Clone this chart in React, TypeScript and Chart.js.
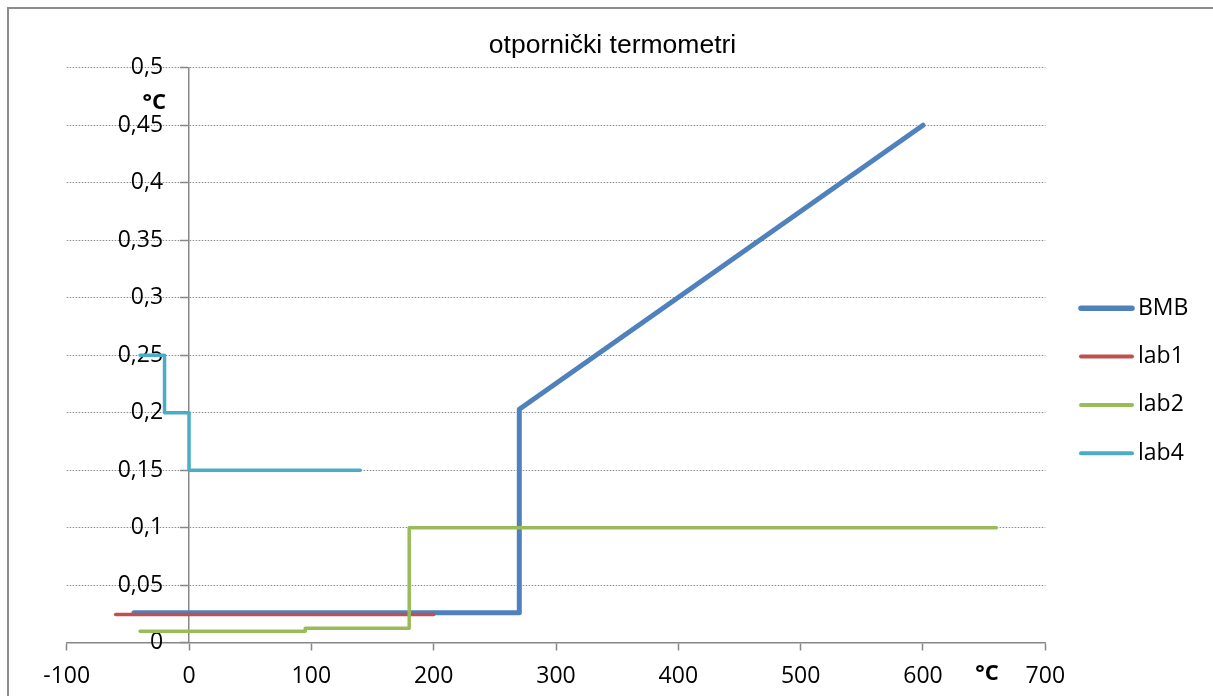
import React, { useEffect, useRef } from 'react';
import { Chart, registerables } from 'chart.js';

Chart.register(...registerables);

// ---- data ----
const TITLE = 'otpornički termometri';
const SERIES_NAMES = ['BMB', 'lab1', 'lab2', 'lab4'];
const SERIES_COLORS = ['#4F81BD', '#C0504D', '#9BBB59', '#4BACC6'];
const SERIES_WIDTHS = [5, 3.5, 3.5, 3.5];

const bmbX = [-45, 270, 270, 600];
const bmbY = [0.026, 0.026, 0.203, 0.45];
const lab1X = [-60, 200];
const lab1Y = [0.0245, 0.0245];
const lab2X = [-40, 95, 95, 180, 180, 660];
const lab2Y = [0.01, 0.01, 0.0125, 0.0125, 0.1, 0.1];
const lab4X = [-40, -20, -20, 0, 0, 140];
const lab4Y = [0.25, 0.25, 0.2, 0.2, 0.15, 0.15];

const X_MIN = -100;
const X_MAX = 700;
const X_STEP = 100;
const Y_MIN = 0;
const Y_MAX = 0.5;
const Y_STEP = 0.05;
const X_UNIT = '°C';
const Y_UNIT = '°C';

const fmt = (v: number) => String(+Number(v).toFixed(2)).replace('.', ',');
const pts = (xs: number[], ys: number[]) => xs.map((x, i) => ({ x, y: ys[i] }));

const AXIS_COLOR = '#878787';
const FONT = 'Open Sans';
// x-value at which the y tick labels are right-aligned (26 px left of the axis at x = 0)
const Y_LABEL_ANCHOR = -21.25;

const framePlugin = {
  id: 'frame',
  beforeDraw(chart: any) {
    const ctx = chart.ctx as CanvasRenderingContext2D;
    ctx.save();
    ctx.fillStyle = '#fff';
    ctx.fillRect(0, 0, chart.width, chart.height);
    ctx.strokeStyle = '#8c8c8c';
    ctx.lineWidth = 2;
    ctx.beginPath();
    ctx.moveTo(8, chart.height + 5);
    ctx.lineTo(8, 8);
    ctx.lineTo(chart.width + 5, 8);
    ctx.stroke();
    ctx.restore();
  },
};

const decorPlugin = {
  id: 'decor',
  afterDraw(chart: any) {
    const ctx = chart.ctx as CanvasRenderingContext2D;
    ctx.save();
    ctx.fillStyle = '#000';
    ctx.font = '26.5px "Liberation Sans", Arial, sans-serif';
    ctx.textAlign = 'center';
    ctx.textBaseline = 'alphabetic';
    ctx.fillText(TITLE, 612.5, 53);

    ctx.font = `bold 22px "${FONT}"`;
    ctx.textAlign = 'right';
    ctx.fillText(Y_UNIT, 166, 109);
    ctx.textAlign = 'center';
    ctx.fillText(X_UNIT, 987, 680);

    chart.data.datasets.forEach((ds: any, i: number) => {
      const y = 308.3 + i * 48.3;
      ctx.strokeStyle = ds.borderColor;
      ctx.lineWidth = i === 0 ? 5.5 : 4;
      ctx.lineCap = 'round';
      ctx.beginPath();
      ctx.moveTo(1081, y);
      ctx.lineTo(1132, y);
      ctx.stroke();
      ctx.fillStyle = '#000';
      ctx.font = `23px "${FONT}"`;
      ctx.textAlign = 'left';
      ctx.textBaseline = 'middle';
      ctx.fillText(ds.label, 1138, y);
    });
    ctx.restore();
  },
};

export default function App() {
  const ref = useRef<HTMLCanvasElement>(null);
  useEffect(() => {
    const seriesPts = [pts(bmbX, bmbY), pts(lab1X, lab1Y), pts(lab2X, lab2Y), pts(lab4X, lab4Y)];
    const chart = new Chart(ref.current as HTMLCanvasElement, {
      type: 'scatter',
      data: {
        datasets: SERIES_NAMES.map((name, i) => ({
          label: name,
          data: seriesPts[i],
          showLine: true,
          order: SERIES_NAMES.length - i,
          borderColor: SERIES_COLORS[i],
          backgroundColor: SERIES_COLORS[i],
          borderWidth: SERIES_WIDTHS[i],
          pointRadius: 0,
          pointHoverRadius: 0,
          tension: 0,
          borderCapStyle: 'round',
          borderJoinStyle: 'round',
        })),
      },
      options: {
        responsive: false,
        animation: false,
        devicePixelRatio: 1,
        layout: { padding: { left: 66.7, right: 1213 - 1045.3, top: 67.7, bottom: 696 - 642.7 } },
        plugins: { legend: { display: false }, title: { display: false }, tooltip: { enabled: false } },
        scales: {
          x: {
            type: 'linear',
            position: { y: 0 } as any,
            min: X_MIN,
            max: X_MAX,
            ticks: { stepSize: X_STEP, color: '#000', font: { family: FONT, size: 23 }, padding: 13, callback: (v: any) => fmt(v) },
            grid: { drawOnChartArea: false, drawTicks: true, tickLength: 7, tickColor: AXIS_COLOR, tickWidth: 1.5 },
            border: { color: AXIS_COLOR, width: 1.5 },
          },
          y: {
            type: 'linear',
            position: { x: 0 } as any,
            min: Y_MIN,
            max: Y_MAX,
            ticks: { display: false, stepSize: Y_STEP },
            grid: { color: '#8a8a8a', lineWidth: 1, drawTicks: true, tickLength: 8, tickColor: AXIS_COLOR, tickWidth: 1.5 },
            border: { color: AXIS_COLOR, width: 1.5, dash: [1.5, 1.5] },
          },
          yl: {
            type: 'linear',
            axis: 'y',
            position: { x: Y_LABEL_ANCHOR } as any,
            min: Y_MIN,
            max: Y_MAX,
            z: 1,
            ticks: { stepSize: Y_STEP, color: '#000', font: { family: FONT, size: 23 }, padding: 0, callback: (v: any) => fmt(v) },
            grid: { display: false, drawTicks: false },
            border: { display: false },
          },
        },
      },
      plugins: [framePlugin, decorPlugin],
    } as any);
    return () => chart.destroy();
  }, []);
  return (
    <div style={{ position: 'fixed', left: 0, top: 0, width: 1213, height: 696, background: '#fff', overflow: 'hidden' }}>
      <style>{'html,body{margin:0;padding:0;overflow:hidden;background:#fff}'}</style>
      <canvas ref={ref} width={1213} height={696} style={{ position: 'absolute', left: 0, top: 0, width: 1213, height: 696, display: 'block' }} />
    </div>
  );
}
